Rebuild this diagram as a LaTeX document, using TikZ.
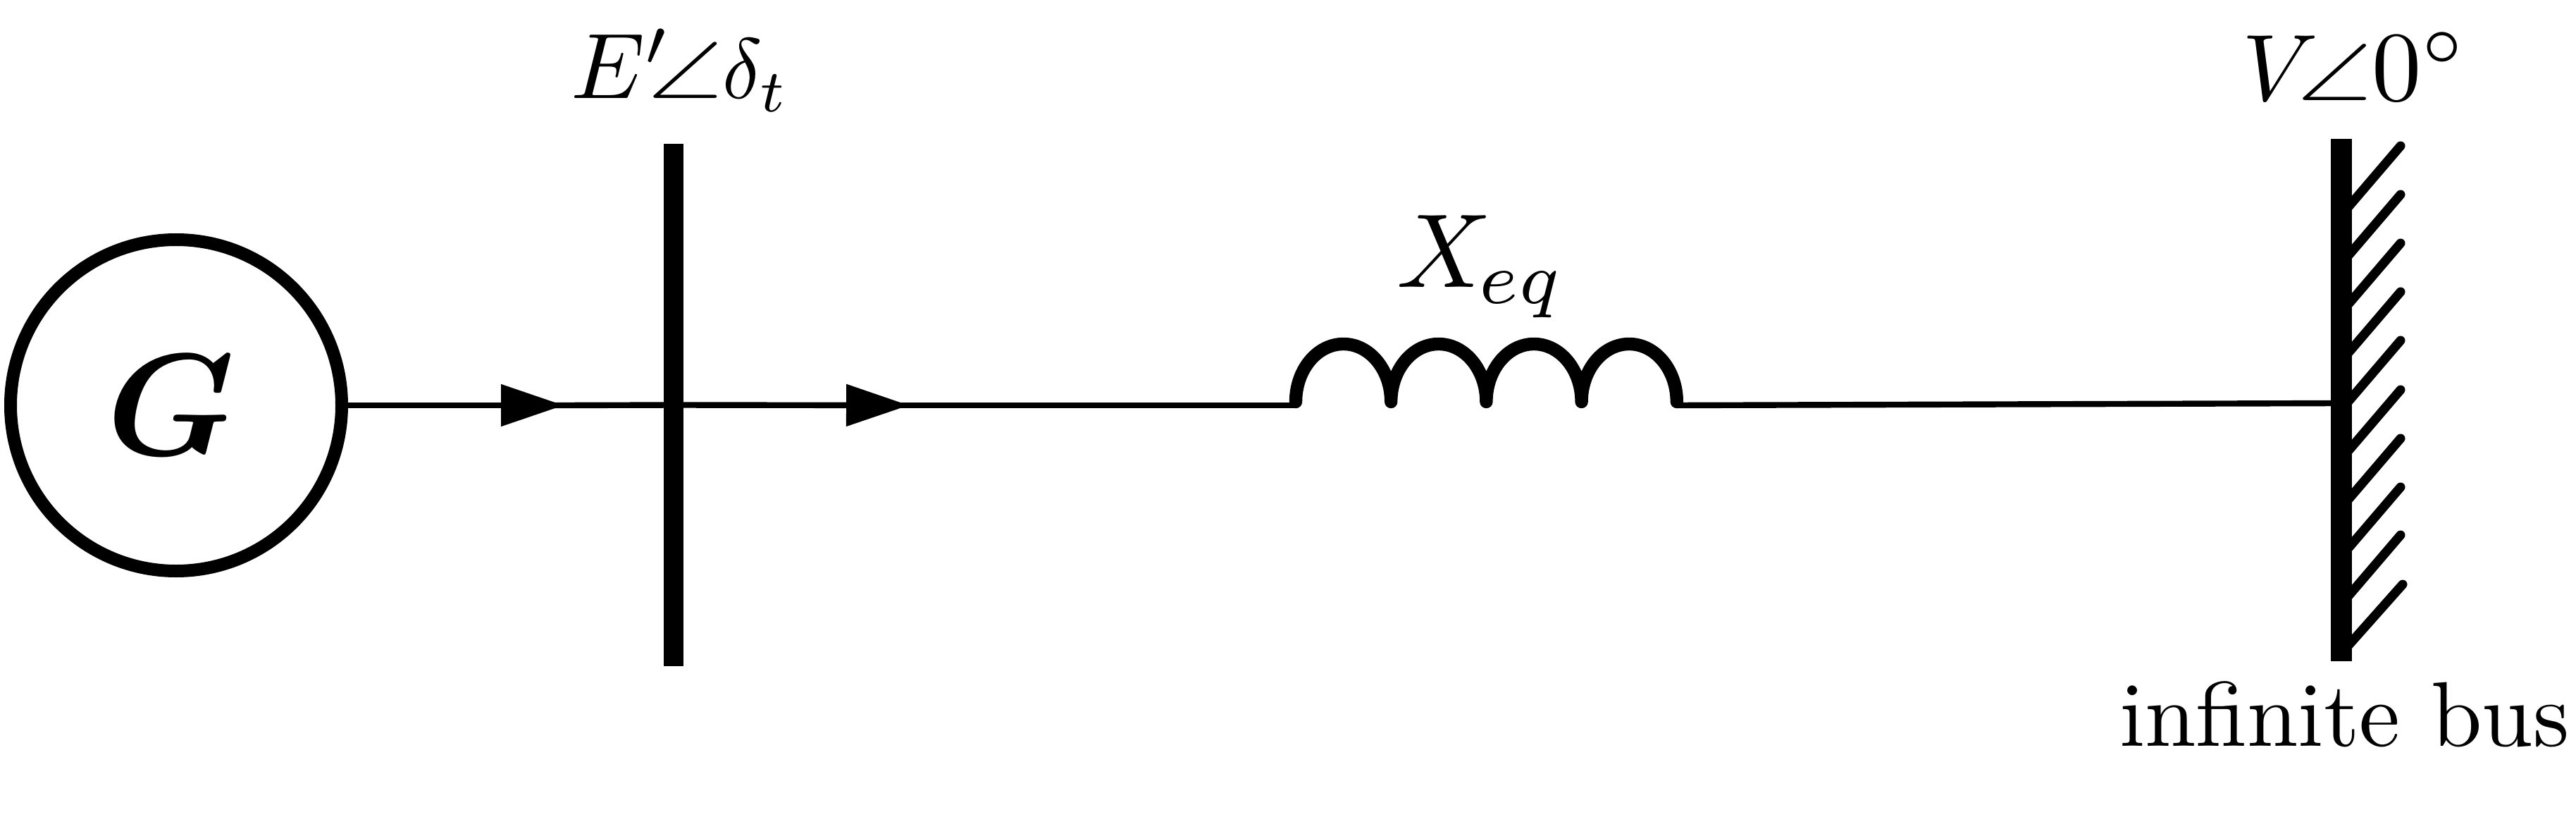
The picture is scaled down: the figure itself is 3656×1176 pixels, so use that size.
\documentclass[tikz,border=0pt]{standalone}
\usepackage{graphicx}
\usepackage{amssymb}
\usetikzlibrary{arrows.meta}
\tikzset{
  wire/.style={line width=4.2pt},
  flow/.style={wire,-{Triangle[length=44.5pt,width=29pt]}},
  gen/.style={circle,draw,line width=9pt,minimum size=235pt,inner sep=0pt,outer sep=0pt},
  busbar/.style={rectangle,fill=black,inner sep=0pt,outer sep=0pt},
  coil/.style={line width=9.2pt,line cap=round,line join=round},
  hatchline/.style={line width=6.5pt,line cap=round},
  lbl/.style={inner sep=0pt,outer sep=0pt,anchor=base west}
}
\begin{document}
\begin{tikzpicture}[x=0.5pt,y=-0.5pt]
\useasboundingbox (0,0) rectangle (3656,1176);
% generator
\node[gen] (G) at (250,575) {};
\node[inner sep=0pt,outer sep=0pt] (Gtext) at (243,575) {\scalebox{10.3}{\boldmath$G$}};
% buses
\node[busbar,minimum width=14pt,minimum height=370.5pt] (B1) at (956,574.5) {};
\node[busbar,minimum width=14.8pt,minimum height=370.5pt] (B2) at (3323,567.5) {};
% junction coordinates
\coordinate (T1) at (800,575);
\coordinate (T2) at (1290,575);
\coordinate (L1) at (1839,575);
\coordinate (L2) at (2380,575);
\coordinate (B2in) at (3315,572);
% connectors
\draw[flow] (G.east) -- (T1);
\draw[wire,shorten <=-12pt] (T1) -- (B1.center);
\draw[flow] (B1.center) -- (T2);
\draw[wire,shorten <=-12pt] (T2) -- (L1);
\draw[wire] (L2) -- (B2in);
% inductor
\draw[coil] (1839,570) arc[start angle=180,end angle=360,x radius=67.6,y radius=82]
  arc[start angle=180,end angle=360,x radius=67.6,y radius=82]
  arc[start angle=180,end angle=360,x radius=67.6,y radius=82]
  arc[start angle=180,end angle=360,x radius=67.6,y radius=82];
% hatching
\foreach \ty in {207,276,345,414,483,553,622,691,759} {
  \draw[hatchline] (3330,\ty+90) -- (3407,\ty);
}
\draw[hatchline] (3330,919) -- (3410,829);
% labels
\node[lbl] (Elab) at (810,140) {\scalebox{6.6}{$E'$\hspace{-2.5pt}\scalebox{1.12}[.87]{$\angle$}\scalebox{.89}[.92]{$\delta_t$}}};
\node[lbl] (Xlab) at (1982,408) {\scalebox{7.45}{$X_{\mkern-1mu eq}$}};
\node[lbl] (Vlab) at (3182,143) {\scalebox{6.7}{$V$\hspace{-2.2pt}\scalebox{1.1}[.86]{$\angle$}\scalebox{1.05}{$0^\circ$}}};
\node[lbl] (Ilab) at (3008,1058) {\scalebox{6.52}{infinite bus}};
\end{tikzpicture}
\end{document}
